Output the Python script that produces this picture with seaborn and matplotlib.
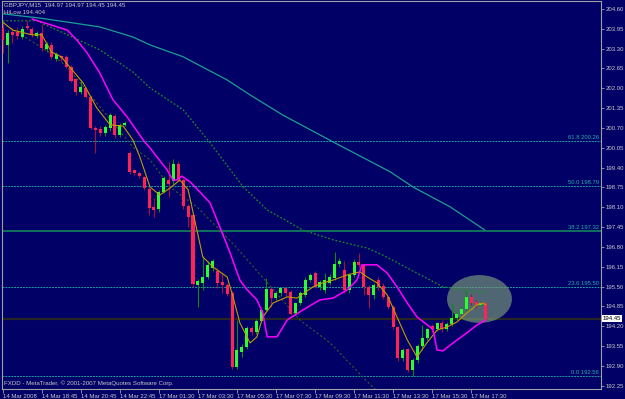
import matplotlib
matplotlib.use("Agg")
import matplotlib.pyplot as plt
import matplotlib.transforms as mtransforms
from matplotlib.patches import Ellipse
import pandas as pd
import seaborn as sns

# ---------------- data ----------------
symbol_title = "GBPJPY,M15  194.97 194.97 194.45 194.45"
indicator_title = "HiLow 194.404"
footer = "FXDD - MetaTrader, \u00a9 2001-2007 MetaQuotes Software Corp."

opens = [203.98, 203.42, 203.85, 203.85, 203.68, 204.05, 203.95, 203.70, 203.80, 203.30,
         203.42, 202.96, 203.05, 203.03, 202.70, 202.30, 201.88, 202.00, 201.72, 200.70,
         200.66, 200.53, 200.70, 201.10, 200.47, 200.80, 199.88, 199.32, 199.23, 199.09,
         198.70, 198.10, 198.04, 198.60, 199.00, 198.95, 199.52, 198.99, 198.14, 197.85,
         195.55, 195.62, 195.81, 196.10, 196.02, 195.65, 195.55, 195.30, 192.85, 193.35,
         193.52, 194.14, 194.01, 194.37, 194.73, 195.42, 195.12, 195.29, 195.45, 195.32,
         194.62, 194.95, 195.22, 195.71, 195.94, 195.49, 195.39, 195.62, 195.78, 196.24,
         196.05, 195.39, 195.88, 196.30, 196.20, 195.49, 195.22, 195.71, 195.52, 195.16,
         194.83, 194.17, 193.16, 193.45, 192.76, 193.09, 193.55, 193.81, 194.20, 194.10,
         194.30, 194.10, 194.27, 194.47, 194.60, 194.76, 195.17, 195.00, 194.88, 194.97]
highs = [204.11, 203.91, 203.98, 204.00, 204.05, 204.25, 204.00, 203.88, 204.10, 203.50,
         203.50, 203.20, 203.10, 203.10, 202.75, 202.35, 202.27, 202.05, 201.75, 200.75,
         200.75, 200.78, 201.18, 201.15, 200.85, 200.92, 199.95, 199.35, 199.25, 199.12,
         198.75, 198.40, 198.65, 199.12, 199.58, 199.68, 199.60, 199.05, 198.20, 197.90,
         195.75, 196.50, 196.35, 196.40, 196.10, 195.95, 195.60, 195.35, 194.40, 193.60,
         194.20, 194.20, 194.45, 194.78, 195.78, 195.50, 195.35, 195.50, 195.50, 195.40,
         195.00, 195.35, 195.80, 195.95, 196.00, 195.70, 195.94, 195.90, 196.63, 196.45,
         196.35, 195.95, 196.40, 196.60, 196.25, 195.55, 195.60, 195.80, 195.60, 195.20,
         194.90, 194.20, 193.50, 193.50, 193.15, 193.60, 194.24, 194.15, 194.28, 194.35,
         194.40, 194.35, 194.96, 194.70, 194.85, 195.40, 195.25, 195.05, 195.00, 194.97]
lows = [203.16, 202.83, 203.49, 203.60, 203.60, 203.90, 203.68, 203.65, 203.22, 203.20,
        202.96, 202.90, 202.90, 202.65, 202.20, 201.78, 201.82, 201.68, 200.65, 199.88,
        200.45, 200.45, 200.60, 200.37, 200.40, 200.75, 199.20, 199.15, 199.05, 198.65,
        197.84, 197.78, 197.95, 198.55, 198.42, 198.85, 198.95, 198.05, 197.45, 195.50,
        194.83, 195.40, 195.75, 196.00, 195.45, 195.30, 195.20, 192.80, 192.78, 193.20,
        193.45, 193.90, 193.95, 194.33, 194.70, 194.83, 195.05, 195.20, 195.20, 194.55,
        194.55, 194.90, 195.15, 195.65, 195.45, 195.40, 195.30, 195.55, 195.70, 196.15,
        195.30, 195.30, 195.80, 196.15, 195.22, 194.80, 195.10, 195.40, 195.10, 194.75,
        194.10, 193.05, 193.05, 192.70, 192.56, 193.00, 193.42, 193.75, 194.00, 194.05,
        194.00, 194.05, 194.20, 194.40, 194.55, 194.70, 194.90, 194.80, 194.85, 194.45]
closes = [203.58, 203.81, 203.75, 203.70, 203.93, 203.96, 203.73, 203.82, 203.33, 203.45,
          203.03, 203.12, 202.98, 202.70, 202.24, 201.88, 202.04, 201.72, 200.70, 200.63,
          200.53, 200.73, 201.12, 200.47, 200.80, 200.86, 199.26, 199.23, 199.12, 198.73,
          198.07, 198.00, 198.60, 199.06, 198.85, 199.52, 198.99, 198.14, 197.78, 195.58,
          195.68, 195.81, 196.20, 196.35, 195.60, 195.55, 195.27, 192.85, 193.42, 193.52,
          194.14, 194.01, 194.37, 194.73, 195.42, 195.12, 195.29, 195.45, 195.29, 194.60,
          194.95, 195.29, 195.71, 195.88, 195.49, 195.65, 195.71, 195.81, 196.24, 196.33,
          195.39, 195.88, 196.30, 196.20, 195.49, 195.22, 195.55, 195.49, 195.16, 194.83,
          194.17, 193.16, 193.42, 192.76, 193.09, 193.55, 193.81, 194.10, 194.10, 194.30,
          194.10, 194.27, 194.47, 194.60, 194.76, 195.17, 194.96, 194.88, 194.97, 194.45]

x_tick_bars = [0, 8, 16, 24, 32, 40, 48, 56, 64, 72, 80, 88, 96]
x_tick_labels = ["14 Mar 2008", "14 Mar 18:45", "14 Mar 20:45", "14 Mar 22:45",
                 "17 Mar 01:30", "17 Mar 03:30", "17 Mar 05:30", "17 Mar 07:30",
                 "17 Mar 09:30", "17 Mar 11:30", "17 Mar 13:30", "17 Mar 15:30",
                 "17 Mar 17:30"]
y_ticks = [204.60, 203.95, 203.30, 202.65, 202.00, 201.35, 200.70, 200.05, 199.40,
           198.75, 198.10, 197.45, 196.80, 196.15, 195.50, 194.85, 194.20, 193.55,
           192.90, 192.25]

fib_levels = [200.26, 198.79, 197.32, 195.50, 192.56]
fib_names = ["61.8", "50.0", "38.2", "23.6", "0.0"]
last_price = 194.45

# fast moving average (olive/yellow)
fast_bar = [0, 2, 6, 8, 10, 12, 16.5, 19.3, 22, 24.7, 26.7, 28.1, 30.2, 32.2, 34.3, 36.3,
            38, 39.8, 41, 43.1, 46, 47.2, 48.6, 50.7, 52.1, 53.3, 55.4, 58.3, 60.3, 63.6,
            65.6, 67.7, 70.6, 73.2, 74.7, 76.7, 78.8, 80.8, 82.9, 84.9, 86.9, 89, 91,
            93.1, 95.1, 97.2, 98.4, 99]
fast_val = [204.17, 203.91, 203.75, 203.75, 203.19, 203.03, 202.17, 201.35, 200.80, 200.76,
            200.30, 199.75, 198.76, 198.50, 198.73, 198.99, 198.67, 197.35, 196.47, 196.14,
            195.81, 195.16, 194.31, 193.65, 193.85, 194.50, 194.96, 195.16, 195.12, 195.49,
            195.62, 195.71, 195.88, 195.98, 195.81, 195.62, 195.22, 194.50, 193.75, 193.19,
            193.65, 194.07, 194.17, 194.34, 194.63, 194.90, 194.96, 194.90]

# HiLow indicator (magenta)
hilow_bar = [6, 13.2, 15.2, 17.3, 19.9, 22.6, 25.5, 28.8, 30.2, 33.7, 34.9, 35.7, 36.7,
             38.4, 40.4, 42.5, 44.5, 46.6, 48.6, 50.1, 52.1, 53.3, 54.2, 56.2, 58.3, 61.5,
             65, 67.7, 70.6, 72.6, 73.6, 76.7, 78.8, 80.8, 82.9, 84.9, 87.6, 88.2, 89,
             90.2, 92.3, 95.1, 97.2, 99]
hilow_val = [204.27, 203.91, 203.58, 203.16, 202.50, 201.62, 201.06, 200.30, 200.04, 199.32,
             198.99, 198.99, 199.12, 198.93, 198.60, 198.24, 197.45, 196.60, 195.71, 195.39,
             195.06, 194.63, 193.85, 193.85, 194.40, 194.73, 195.06, 195.12, 195.39, 195.71,
             196.21, 196.21, 195.94, 195.49, 194.96, 194.50, 194.17, 194.07, 193.42, 193.39,
             193.65, 193.98, 194.24, 194.404]

# slow moving average (teal, solid)
slow_bar = [0, 7.6, 13.2, 19.9, 26.7, 30.2, 37, 46, 50.7, 57.4, 67.7, 79.4, 84.1, 91.7, 98.8]
slow_val = [204.44, 204.30, 204.17, 204.01, 203.68, 203.42, 203.03, 202.27, 201.78, 201.12,
            200.24, 199.26, 198.76, 198.11, 197.35]

# medium moving average (green, dotted)
mid_bar = [0, 7, 9.7, 11.1, 19.9, 26.7, 30.2, 37, 42.5, 49.3, 54.2, 61.5, 67.7, 74.7,
           77.9, 90.2, 99]
mid_val = [204.21, 204.21, 204.01, 203.91, 203.26, 202.53, 202.01, 201.29, 200.21, 198.76,
           198.01, 197.35, 197.03, 196.76, 196.53, 195.49, 195.29]

# dark dashed line
trend_bar = [0, 9.7, 13.2, 26.7, 30.2, 34.3, 39.8, 43.9, 48, 60.9, 67.1, 73.8, 76.9]
trend_val = [204.14, 203.16, 202.70, 200.07, 199.65, 198.76, 198.11, 197.45, 196.76, 194.40,
             193.65, 192.53, 192.04]

ellipse_center_bar = 97.7
ellipse_center_price = 195.09
ellipse_width_bars = 13.3
ellipse_height_price = 1.57

# ---------------- styling ----------------
BG = "#000066"
FG = "#c8c8c8"
sns.set_theme(style="ticks")
plt.rcParams["font.family"] = ["Liberation Sans", "DejaVu Sans"]

fig = plt.figure(figsize=(6.25, 3.99), dpi=100, facecolor=BG)
ax = fig.add_axes([2 / 625, 10 / 399, 599 / 625, 388 / 399])
ax.set_facecolor(BG)

bars = list(range(len(opens)))
df = pd.DataFrame({"bar": bars, "open": opens, "high": highs, "low": lows, "close": closes})
df["up"] = df["close"] >= df["open"]

# fib / horizontal levels
fib_styles = {
    "61.8": dict(color="#1f9e9e", lw=0.7, ls=(0, (2, 1))),
    "50.0": dict(color="#1f9e9e", lw=0.7, ls=(0, (2, 1))),
    "38.2": dict(color="#117a5a", lw=1.3, ls="-"),
    "23.6": dict(color="#1f9e9e", lw=0.7, ls=(0, (2, 1))),
    "0.0": dict(color="#1f9e9e", lw=0.7, ls=(0, (2, 1))),
}
trans_y = mtransforms.blended_transform_factory(ax.transAxes, ax.transData)
for name, lvl in zip(fib_names, fib_levels):
    ax.axhline(lvl, zorder=1, **fib_styles[name])
    ax.text(0.997, lvl + 0.03, f"{name} {lvl:.2f}", transform=trans_y, ha="right",
            va="bottom", fontsize=4.2, color="#22b0a8", zorder=6)
ax.axhline(last_price, color="#262626", lw=1.6, zorder=1)

# ellipse annotation
ax.add_patch(Ellipse((ellipse_center_bar, ellipse_center_price), ellipse_width_bars,
                     ellipse_height_price, facecolor="#78987a", edgecolor="none",
                     alpha=0.68, zorder=2))

# indicator lines
sns.lineplot(x=trend_bar, y=trend_val, ax=ax, color="#3c5a28", lw=0.8,
             linestyle=(0, (2, 2)), sort=False, estimator=None, zorder=3)
sns.lineplot(x=mid_bar, y=mid_val, ax=ax, color="#1e8a2a", lw=0.9,
             linestyle=(0, (1.5, 1.5)), sort=False, estimator=None, zorder=3)
sns.lineplot(x=slow_bar, y=slow_val, ax=ax, color="#1aa095", lw=0.9,
             sort=False, estimator=None, zorder=3)

# candles
width = 0.62
for up, sub in df.groupby("up"):
    body_c = "#2bff2b" if up else "#ff2255"
    wick_c = "#0c8c0c" if up else "#a8103a"
    ax.vlines(sub["bar"], sub["low"], sub["high"], color=wick_c, lw=0.8, zorder=4)
    bottoms = sub[["open", "close"]].min(axis=1)
    heights = (sub["close"] - sub["open"]).abs().clip(lower=0.03)
    ax.bar(sub["bar"], heights, bottom=bottoms, width=width, color=body_c,
           edgecolor="none", zorder=5)

sns.lineplot(x=fast_bar, y=fast_val, ax=ax, color="#c09c00", lw=0.8,
             sort=False, estimator=None, zorder=6)
sns.lineplot(x=hilow_bar, y=hilow_val, ax=ax, color="#ff00ff", lw=1.1,
             sort=False, estimator=None, zorder=6)

# axes
ax.set_xlim(-0.14, 122.6)
ax.set_ylim(192.14, 204.86)
ax.grid(False)
for s in ax.spines.values():
    s.set_color("#a0a0a0")
    s.set_linewidth(0.8)

ax.yaxis.tick_right()
ax.set_yticks(y_ticks)
ax.set_yticklabels([f"{v:.2f}" for v in y_ticks])
ax.set_xticks(x_tick_bars)
ax.set_xticklabels(x_tick_labels)
for lbl in ax.get_xticklabels():
    lbl.set_horizontalalignment("left")
ax.tick_params(axis="y", colors="#a0a0a0", labelcolor=FG, labelsize=4.3,
               length=2, width=0.6, pad=1.5, direction="out")
ax.tick_params(axis="x", colors="#a0a0a0", labelcolor=FG, labelsize=4.3,
               length=3, width=0.6, pad=0.5, direction="out")
ax.set_xlabel("")
ax.set_ylabel("")

# current price box
ax.text(1.003, last_price, f"{last_price:.2f}", transform=trans_y, ha="left",
        va="center", fontsize=4.3, color="black", zorder=7, clip_on=False,
        bbox=dict(boxstyle="square,pad=0.2", facecolor="white", edgecolor="none"))

# header / footer texts
fig.text(4 / 625, 1 - 2 / 399, symbol_title, ha="left", va="top", fontsize=4.4, color=FG)
fig.text(4 / 625, 1 - 9.5 / 399, indicator_title, ha="left", va="top", fontsize=4.4, color=FG)
fig.text(4 / 625, 1 - 383 / 399, footer, ha="left", va="center", fontsize=4.4, color=FG)

fig.savefig("out.png", dpi=100, facecolor=BG)
